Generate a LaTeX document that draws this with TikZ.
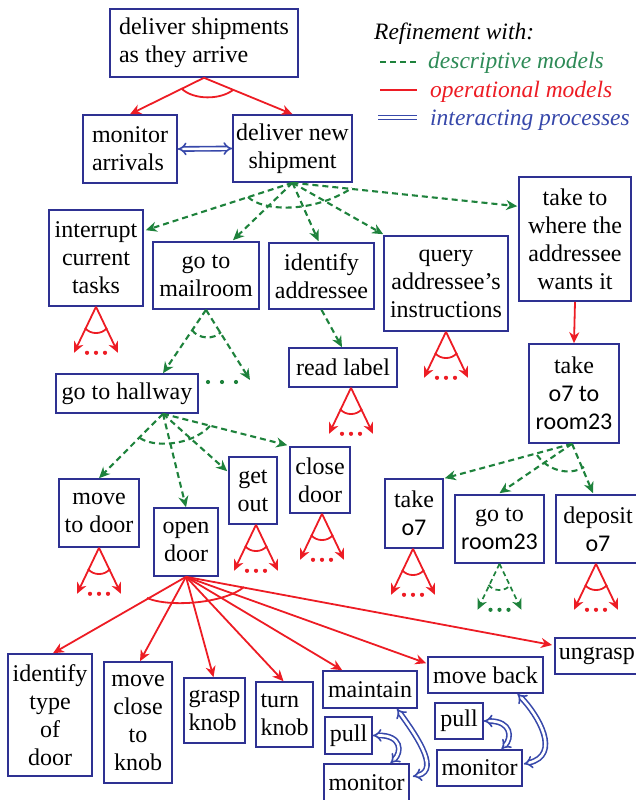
\documentclass[tikz,border=0pt]{standalone}
\usepackage{fontspec}
\setmainfont{Liberation Serif}
\newfontfamily\sansf{Carlito}
\usetikzlibrary{arrows.meta,calc}
\definecolor{boxblue}{RGB}{46,49,146}
\definecolor{opred}{RGB}{237,28,36}
\definecolor{degreen}{RGB}{30,130,60}
\definecolor{legreen}{RGB}{46,139,87}
\definecolor{iblue}{RGB}{55,72,170}
\newcommand{\bodyfont}{\fontsize{24}{28}\selectfont}
\newcommand{\legfont}{\fontsize{23.5}{28}\selectfont}
\tikzset{
  box/.style={draw=boxblue, line width=1.6pt, inner sep=0pt, align=center, font=\bodyfont},
  opline/.style={draw=opred, line width=1.8pt},
  deline/.style={draw=degreen, line width=2.1pt, dash pattern=on 6pt off 4pt},
  tipa/.style={-{Stealth[length=11pt,width=10pt,inset=3.5pt]}},
  interact/.style={draw=iblue, double=white, double distance=2.6pt, line width=1.6pt},
  inttips/.style={{Implies[scale=1.6]}-{Implies[scale=1.6]}},
}
\newcommand{\smallfan}[3]{%
  \draw[#2,tipa] (#1) -- ($(#1)+(-22,46)$);
  \draw[#2,tipa] (#1) -- ($(#1)+(22,46)$);
  \draw[#2] ($(#1)+(-11,21)$) .. controls ($(#1)+(-6,28)$) and ($(#1)+(6,28)$) .. ($(#1)+(11,21)$);
  \foreach \d in {-9,0,9} \fill[#3] ($(#1)+(\d,46)$) circle (2.1);
}
\begin{document}
\begin{tikzpicture}[x=1pt,y=-1pt]
\useasboundingbox (0,0) rectangle (635,800);

% ---------- nodes ----------
\node[box, align=left, minimum width=188pt, minimum height=68pt] (top) at (204,43) {deliver shipments\\as they arrive};
\node[box, align=left, minimum width=94pt, minimum height=68pt] (monitor) at (130,149) {monitor\\arrivals};
\node[box, minimum width=119pt, minimum height=67pt] (delnew) at (292.5,148.5) {deliver new\\shipment};

\node[box, minimum width=94pt, minimum height=96pt] (interrupt) at (96,258) {interrupt\\current\\tasks};
\node[box, minimum width=106pt, minimum height=67pt] (mailroom) at (206,275.5) {go to\\mailroom};
\node[box, minimum width=105pt, minimum height=66pt] (identify) at (321.5,276) {identify\\addressee};
\node[box, minimum width=124pt, minimum height=95pt] (query) at (446,283.5) {query\\addressee’s\\instructions};
\node[box, minimum width=112pt, minimum height=124pt] (taketo) at (575,239) {take to\\where the\\addressee\\wants it};

\node[box, minimum width=108pt, minimum height=39pt] (readlabel) at (343,367.5) {read label};
\node[box, minimum width=90pt, minimum height=99pt] (takeroom) at (574,393.5) {take\\{\sansf o7 to}\\{\sansf room23}};
\node[box, minimum width=142pt, minimum height=39pt] (hallway) at (127,393.5) {go to hallway};

\node[box, minimum width=80pt, minimum height=68pt] (movetodoor) at (99,513) {move\\to door};
\node[box, minimum width=64pt, minimum height=68pt] (opendoor) at (186,542) {open\\door};
\node[box, minimum width=48pt, minimum height=67pt] (getout) at (253,490.5) {get\\out};
\node[box, minimum width=60pt, minimum height=66pt] (closedoor) at (320,480) {close\\door};

\node[box, minimum width=58pt, minimum height=69pt] (takeo7) at (414,513.5) {take\\{\sansf o7}};
\node[box, minimum width=89pt, minimum height=68pt] (goroom) at (499.5,529) {go to\\{\sansf room23}};
\node[box, minimum width=84pt, minimum height=68pt] (deposit) at (598,529) {deposit\\{\sansf o7}};

\node[box, minimum width=84pt, minimum height=122pt] (identtype) at (50,715) {identify\\type\\of\\door};
\node[box, minimum width=68pt, minimum height=121pt] (moveclose) at (138,722.5) {move\\close\\to\\knob};
\node[box, align=left, minimum width=61pt, minimum height=65pt] (grasp) at (214.5,710.5) {grasp\\knob};
\node[box, align=left, minimum width=57pt, minimum height=65pt] (turn) at (284.5,714.5) {turn\\knob};
\node[box, minimum width=94pt, minimum height=37pt] (maintain) at (370,689.5) {maintain};
\node[box, minimum width=115pt, minimum height=36pt] (moveback) at (485.5,675) {move back};
\node[box, align=left, anchor=west, minimum width=91pt, minimum height=36pt, inner xsep=4pt, text width=83pt] (ungrasp) at (554,656) {ungrasp};
\node[box, minimum width=47pt, minimum height=37pt] (pullL) at (348.5,735.5) {pull};
\node[box, minimum width=85pt, minimum height=37pt] (monitorL) at (366.5,782.5) {monitor};
\node[box, minimum width=48pt, minimum height=36pt] (pullR) at (459,721) {pull};
\node[box, minimum width=85pt, minimum height=36pt] (monitorR) at (479.5,768) {monitor};

% ---------- legend ----------
\node[anchor=base west, inner sep=0pt, font=\legfont\itshape] (legtitle) at (374,40) {Refinement with:};
\node[anchor=base west, inner sep=0pt, font=\legfont\itshape, text=legreen] (legd) at (428,68) {descriptive models};
\node[anchor=base west, inner sep=0pt, font=\legfont\itshape, text=opred] (lego) at (430,97) {operational models};
\node[anchor=base west, inner sep=0pt, font=\legfont\itshape, text=iblue] (legi) at (430,125) {interacting processes};
\draw[deline, line width=1.4pt] (380,62) -- (417,62);
\draw[opline, line width=1.2pt] (380,90) -- (417,90);
\draw[interact, line width=1pt, double distance=2.5pt] (378,117.5) -- (417,117.5);

% ---------- top level ----------
\draw[opline,tipa] (top.south) -- (monitor.north);
\draw[opline,tipa] (top.south) -- (delnew.north);
\draw[opline] (182,89) .. controls (194,100) and (220,100) .. (233,90);
\draw[interact,inttips] (monitor.east) -- (delnew.west);

% ---------- deliver new shipment fan ----------
\coordinate (dA) at (delnew.south);
\draw[deline,tipa] (dA) -- ($(interrupt.north east)+(2,21)$);
\draw[deline,tipa] (dA) -- ($(mailroom.north)+(27,-1)$);
\draw[deline,tipa] (dA) -- ($(identify.north)+(-3,-1)$);
\draw[deline,tipa] (dA) -- ($(query.north west)+(0,-1)$);
\draw[deline,tipa] (dA) -- ($(taketo.north west)+(-1,30)$);
\draw[deline] (248,197) .. controls (262,211) and (312,214) .. (352,188);

\draw[deline,tipa] (identify.south) -- ($(readlabel.north)+(-1,0)$);
\draw[opline,tipa] (taketo.south) -- (takeroom.north);

% ---------- mailroom fan ----------
\coordinate (mA) at (mailroom.south);
\coordinate (mEnd) at (250,380);
\draw[deline,tipa] (mA) -- ($(hallway.north)+(36,0)$);
\draw[deline,tipa] (mA) -- (mEnd);
\draw[deline] (192,330) .. controls (198,339) and (214,340) .. (221,332);
\foreach \d in {208,222,236} \fill[degreen] (\d,382) circle (2.1);

% ---------- hallway fan ----------
\coordinate (hA) at ($(hallway.south)+(36,0)$);
\draw[deline,tipa] (hA) -- (movetodoor.north);
\draw[deline,tipa] (hA) -- (opendoor.north);
\draw[deline,tipa] (hA) -- ($(getout.north west)+(-1,15)$);
\draw[deline,tipa] (hA) -- ($(closedoor.north west)+(-2,-1)$);
\draw[deline] (140,438) .. controls (152,447) and (190,447) .. (210,426);

% ---------- take o7 to room23 fan ----------
\coordinate (rA) at ($(takeroom.south)+(-2,0)$);
\draw[deline,tipa] (rA) -- ($(takeo7.north east)+(1,0)$);
\draw[deline,tipa] (rA) -- ($(goroom.north)+(0,-1)$);
\draw[deline,tipa] (rA) -- ($(deposit.north)+(-5,-1)$);
\draw[deline] (537,455) .. controls (548,471) and (570,476) .. (584,467);

% ---------- small fans ----------
\coordinate (f1) at (interrupt.south);
\coordinate (f2) at (query.south);
\coordinate (f3) at ($(readlabel.south)+(8,0)$);
\coordinate (f4) at (movetodoor.south);
\coordinate (f5) at ($(getout.south)+(3,0)$);
\coordinate (f6) at ($(closedoor.south)+(2,0)$);
\coordinate (f7) at ($(takeo7.south)+(-1,0)$);
\coordinate (f8) at (goroom.south);
\coordinate (f9) at ($(deposit.south)+(-2,0)$);
\smallfan{f1}{opline}{opred}
\smallfan{f2}{opline}{opred}
\smallfan{f3}{opline}{opred}
\smallfan{f4}{opline}{opred}
\smallfan{f5}{opline}{opred}
\smallfan{f6}{opline}{opred}
\smallfan{f7}{opline}{opred}
\smallfan{f8}{deline,line width=1.7pt,dash pattern=on 5pt off 3.5pt}{degreen}
\smallfan{f9}{opline}{opred}

% ---------- open door fan ----------
\coordinate (oA) at (opendoor.south);
\draw[opline,tipa] (oA) -- ($(identtype.north)+(3,0)$);
\draw[opline,tipa] (oA) -- ($(moveclose.north)+(2,0)$);
\draw[opline,tipa] (oA) -- ($(grasp.north)+(-1,0)$);
\draw[opline,tipa] (oA) -- ($(turn.north)+(-1,0)$);
\draw[opline,tipa] (oA) -- ($(maintain.north west)+(20,0)$);
\draw[opline,tipa] (oA) -- ($(moveback.north west)+(-1,7)$);
\draw[opline,tipa] (oA) -- ($(ungrasp.west)+(-2,-11)$);
\draw[opline] (147,598) .. controls (170,608) and (225,603) .. (244,587);

% ---------- interacting processes at the bottom ----------
\draw[interact,inttips] (pullL.east) .. controls (402,735) and (402,752) .. ($(monitorL.north)+(24,0)$);
\draw[interact,inttips] ($(maintain.south)+(27,0)$) .. controls (412,730) and (442,770) .. ($(monitorL.east)+(3,-6)$);
\draw[interact,inttips] (pullR.east) .. controls (512,721) and (512,738) .. ($(monitorR.north)+(22,0)$);
\draw[interact,inttips] ($(moveback.south)+(32,0)$) .. controls (538,715) and (562,755) .. ($(monitorR.east)+(1,-4)$);
\end{tikzpicture}
\end{document}
